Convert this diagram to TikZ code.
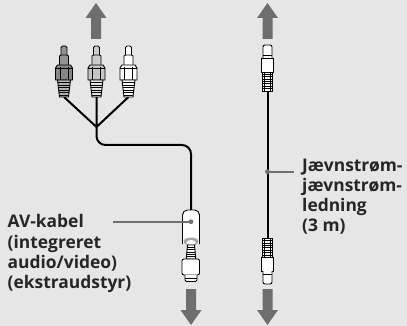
\documentclass[tikz,border=0pt]{standalone}
\usepackage{fontspec}
\setmainfont{Open Sans}[BoldFont={Open Sans Bold}]
\definecolor{bg}{HTML}{E6E6E6}
\definecolor{agray}{HTML}{6E6E6E}
\definecolor{lgray}{HTML}{707070}
\tikzset{
  bigarrow/.pic={\fill[agray] (-5,36) -- (-5,15) -- (-10.5,15) -- (0,0) -- (10.5,15) -- (5,15) -- (5,36) -- cycle;},
  cable/.style={line width=2pt, black},
  outl/.style={draw=black, line width=0.9pt},
  rib/.style={black, line width=0.6pt},
  leader/.style={lgray, line width=1.8pt},
  lbl/.style={font=\bfseries\fontsize{17.4}{20.2}\selectfont, align=left, inner sep=0pt, text=black!85}
}
\newcommand\rcaplugat[4]{% x, pin/collar colour, body colour, rib colour
\begin{scope}[shift={(#1,97)}]
  \draw[outl, fill=#2, rounded corners=1.5] (-3,-40) -- (-3,-51) -- (3,-51) -- (3,-40);
  \draw[outl, fill=#2] (-4.5,-31) -- (-4.5,-41) -- (-3,-42) -- (3,-42) -- (4.5,-41) -- (4.5,-31) -- cycle;
  \draw[outl, fill=#3] (-8.5,-17) -- (-8.5,-29) -- (-6.5,-32) -- (6.5,-32) -- (8.5,-29) -- (8.5,-17) -- cycle;
  \draw[rib] (-4,-30) -- (-4,-17) (4,-30) -- (4,-17) (-8.5,-29) -- (8.5,-29);
  \draw[outl, fill=#4] (-6.5,-17) -- (6.5,-17) -- (4.5,0) -- (-4.5,0) -- cycle;
  \foreach \k in {1,...,6} \draw[rib] ({-6.5+0.11*\k*2.5},{-17+\k*2.5}) -- ({6.5-0.11*\k*2.5},{-17+\k*2.5});
\end{scope}}
\newcommand\dcplugat[3]{% x, y of cable end, direction (1 = plug above, -1 = plug below)
\begin{scope}[shift={(#1,#2)}, yscale=#3]
  \draw[outl, fill=white] (-4.8,0) -- (-4.8,-19) -- (4.8,-19) -- (4.8,0) -- cycle;
  \foreach \k in {1,...,7} \draw[rib] (-4.8,{-\k*2.4}) -- (4.8,{-\k*2.4});
  \draw[rib] (-3,0) -- (-3,-19) (3,0) -- (3,-19);
  \draw[outl, fill=white] (-5.8,-19) -- (-5.8,-33) -- (5.8,-33) -- (5.8,-19) -- cycle;
  \draw[outl, fill=white, rounded corners=2] (-4.5,-33) -- (-4.5,-46) -- (4.5,-46) -- (4.5,-33);
  \draw[rib] (-4.5,-36) -- (4.5,-36);
\end{scope}}
\begin{document}
\begin{tikzpicture}[x=1pt, y=-1pt]
\fill[bg] (0,0) rectangle (407,326);
\useasboundingbox (0,0) rectangle (407,326);

% arrows
\pic at (96,3) {bigarrow};
\pic at (267.5,3) {bigarrow};
\pic[yscale=-1] at (191,325) {bigarrow};
\pic[yscale=-1] at (267.5,325) {bigarrow};

% AV cable
\coordinate (pl) at (64,97);
\coordinate (pm) at (96.5,97);
\coordinate (pr) at (128.5,97);
\coordinate (jn) at (96.5,127);
\coordinate (fe) at (191,211);
\draw[cable] (pl) -- (jn) (pm) -- (jn) (pr) -- (jn);
\draw[cable, rounded corners=9] (jn) -- (96.5,145) -- (191,145) -- (fe);
\rcaplugat{64}{gray!85}{gray!95}{gray!60}
\rcaplugat{96.5}{gray!40}{gray!45}{gray!20}
\rcaplugat{128.5}{white}{white}{white}

% ferrite core and plug
\draw[outl, fill=white, rounded corners=5] (182.5,244) -- (182.5,210) -- (199.5,210) -- (199.5,244);
\fill[gray!70] (191,241.5) ellipse (7.5 and 4);
\fill[white] (191,242.5) ellipse (4.5 and 2.5);
\draw[outl] (182.5,240) -- (182.5,244) (199.5,240) -- (199.5,244);
\draw[outl, fill=white] (187.5,245) -- (194.5,245) -- (195.8,259) -- (186.2,259) -- cycle;
\foreach \k in {1,...,5} \draw[rib] (187,{245+\k*2.3}) -- (195,{245+\k*2.3});
\draw[outl, fill=white, rounded corners=2] (182,259) -- (182,275) -- (199.5,275) -- (199.5,259) -- cycle;
\draw[outl, fill=white, rounded corners=1.5] (185,275) -- (185,281.5) -- (197,281.5) -- (197,275);
\draw[rib] (185,278) -- (197,278);

% DC cable
\coordinate (dt) at (267.5,91);
\coordinate (db) at (267.5,238);
\draw[cable] (dt) -- (db);
\dcplugat{267.5}{91}{1}
\dcplugat{267.5}{238}{-1}

% labels
\coordinate (avdot) at (191,221.7);
\coordinate (dcdot) at (267.5,171.7);
\fill[lgray] (avdot) circle (2.4);
\fill[lgray] (dcdot) circle (2.4);
\node[lbl, anchor=north west] (avlbl) at (7.5,214.5) {AV-kabel\\(integreret\\audio/video)\\(ekstraudstyr)};
\node[lbl, anchor=north west] (dclbl) at (302,158.5) {Jævnstrøm-\\jævnstrøm-\\ledning\\(3 m)};
\draw[leader] (avdot) -- (113,221.7);
\draw[leader] (dcdot) -- (294,171.7);
\end{tikzpicture}
\end{document}
